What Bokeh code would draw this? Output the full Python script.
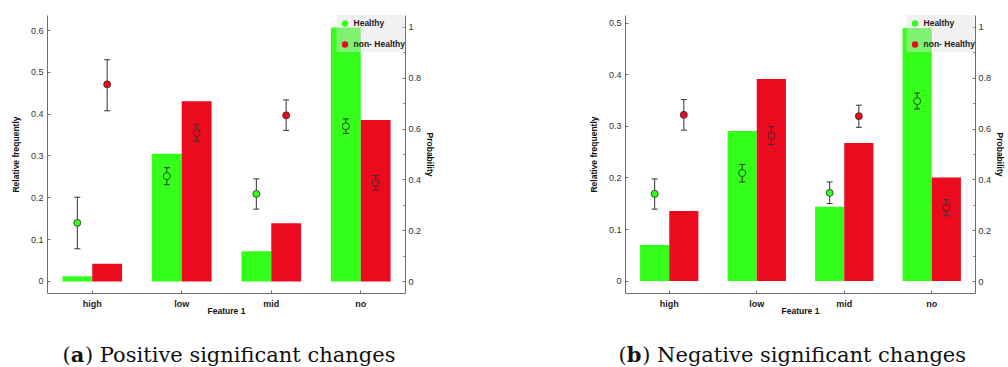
from bokeh.plotting import figure
from bokeh.models import (FactorRange, Range1d, LinearAxis, FixedTicker, Legend,
                          LegendItem, Label, ColumnDataSource)
from bokeh.transform import dodge
from bokeh.layouts import row, column
from bokeh.embed import file_html
from bokeh.resources import INLINE

# ---------------- data ----------------
categories = ["high", "low", "mid", "no"]
legend_labels = ["Healthy", "non- Healthy"]

# panel (a): positive significant changes
a_freq_healthy = [0.012, 0.305, 0.072, 0.607]
a_freq_nonhealthy = [0.042, 0.431, 0.139, 0.386]
a_prob_healthy = [0.231, 0.415, 0.345, 0.611]
a_prob_healthy_lo = [0.129, 0.381, 0.285, 0.583]
a_prob_healthy_hi = [0.332, 0.448, 0.404, 0.640]
a_prob_nonhealthy = [0.776, 0.585, 0.654, 0.389]
a_prob_nonhealthy_lo = [0.672, 0.553, 0.595, 0.360]
a_prob_nonhealthy_hi = [0.873, 0.619, 0.715, 0.417]

# panel (b): negative significant changes
b_freq_healthy = [0.070, 0.291, 0.144, 0.491]
b_freq_nonhealthy = [0.136, 0.392, 0.268, 0.201]
b_prob_healthy = [0.345, 0.427, 0.349, 0.710]
b_prob_healthy_lo = [0.285, 0.392, 0.307, 0.679]
b_prob_healthy_hi = [0.404, 0.461, 0.392, 0.742]
b_prob_nonhealthy = [0.656, 0.574, 0.651, 0.290]
b_prob_nonhealthy_lo = [0.596, 0.539, 0.607, 0.259]
b_prob_nonhealthy_hi = [0.716, 0.609, 0.694, 0.322]

# ticks
a_freq_ticks = [0, 0.1, 0.2, 0.3, 0.4, 0.5, 0.6]
a_freq_tick_labels = ["0", "0.1", "0.2", "0.3", "0.4", "0.5", "0.6"]
b_freq_ticks = [0, 0.1, 0.2, 0.3, 0.4, 0.5]
b_freq_tick_labels = ["0", "0.1", "0.2", "0.3", "0.4", "0.5"]
prob_ticks = [0, 0.2, 0.4, 0.6, 0.8, 1]
prob_tick_labels = ["0", "0.2", "0.4", "0.6", "0.8", "1"]
prob_minor_ticks = [0.1, 0.3, 0.5, 0.7, 0.9]

# captions
caption_letters = ["a", "b"]
caption_texts = ["Positive significant changes", "Negative significant changes"]

GREEN = "#33ff1a"
RED = "#ec0a1e"
AXIS = "#6e6e6e"
SANS = "Liberation Sans"
SERIF = "DejaVu Serif"


def style_axis(ax):
    ax.axis_line_color = AXIS
    ax.major_tick_line_color = AXIS
    ax.minor_tick_line_color = AXIS
    ax.major_tick_in = 3
    ax.major_tick_out = 0
    ax.minor_tick_in = 0
    ax.minor_tick_out = 0
    ax.major_label_text_font = SANS
    ax.major_label_text_font_size = "9px"
    ax.major_label_text_color = "#333333"
    ax.major_label_standoff = 4
    ax.axis_label_text_font = SANS
    ax.axis_label_text_font_style = "bold"
    ax.axis_label_text_font_size = "8.5px"
    ax.axis_label_text_color = "#111111"


def make_panel(width, min_left, min_right, fh, fn, ph, ph_lo, ph_hi, pn, pn_lo, pn_hi,
               y_min, y_max, freq_ticks, freq_tick_labels):
    src = ColumnDataSource(dict(cat=categories, fh=fh, fn=fn, ph=ph, ph_lo=ph_lo,
                                ph_hi=ph_hi, pn=pn, pn_lo=pn_lo, pn_hi=pn_hi))
    p = figure(width=width, height=322,
               x_range=FactorRange(factors=categories, range_padding=0),
               y_range=Range1d(y_min, y_max),
               output_backend="svg", toolbar_location=None,
               min_border_left=min_left, min_border_right=min_right,
               min_border_top=15, min_border_bottom=29)
    p.outline_line_color = None
    p.xgrid.visible = False
    p.ygrid.visible = False
    p.extra_y_ranges = {"prob": Range1d(-0.047, 1.047)}

    # left axis
    lax = p.left[0]
    style_axis(lax)
    lax.ticker = FixedTicker(ticks=freq_ticks, minor_ticks=[])
    lax.major_label_overrides = {t: s for t, s in zip(freq_ticks, freq_tick_labels)}
    lax.axis_label = "Relative frequently"
    lax.axis_label_standoff = 7

    # bottom axis
    bax = p.below[0]
    style_axis(bax)
    bax.major_label_text_font_style = "bold"
    bax.major_label_text_color = "#222222"
    bax.major_label_standoff = 5
    bax.axis_label = "Feature 1"
    bax.axis_label_standoff = -6

    # right axis
    rax = LinearAxis(y_range_name="prob",
                     ticker=FixedTicker(ticks=prob_ticks, minor_ticks=prob_minor_ticks))
    style_axis(rax)
    rax.minor_tick_in = 2
    rax.major_label_standoff = 3
    rax.major_label_overrides = {t: s for t, s in zip(prob_ticks, prob_tick_labels)}
    rax.axis_label = "Probability"
    rax.axis_label_standoff = 1
    p.add_layout(rax, "right")

    xg = dodge("cat", -1 / 6, range=p.x_range)
    xr = dodge("cat", 1 / 6, range=p.x_range)

    # bars (relative frequency)
    p.vbar(x=xg, top="fh", bottom=0, width=1 / 3, source=src,
           fill_color=GREEN, line_color=None)
    p.vbar(x=xr, top="fn", bottom=0, width=1 / 3, source=src,
           fill_color=RED, line_color=None)

    # error bars (probability)
    for xx, lo, hi in ((xg, "ph_lo", "ph_hi"), (xr, "pn_lo", "pn_hi")):
        p.segment(x0=xx, y0=lo, x1=xx, y1=hi, source=src, y_range_name="prob",
                  line_color="#333333", line_width=1)
        p.scatter(x=xx, y=lo, marker="dash", size=6, source=src, y_range_name="prob",
                  line_color="#333333", line_width=1)
        p.scatter(x=xx, y=hi, marker="dash", size=6, source=src, y_range_name="prob",
                  line_color="#333333", line_width=1)

    # legend swatches (edge-less dots, hidden beneath the real points)
    lg = p.scatter(x=xg, y="ph", size=6, source=src, y_range_name="prob",
                   fill_color=GREEN, line_color=None)
    lr = p.scatter(x=xr, y="pn", size=6, source=src, y_range_name="prob",
                   fill_color=RED, line_color=None)

    # probability points
    p.scatter(x=xg, y="ph", size=7, source=src, y_range_name="prob",
              fill_color=GREEN, line_color="#2a2a2a", line_width=0.8)
    p.scatter(x=xr, y="pn", size=7, source=src, y_range_name="prob",
              fill_color=RED, line_color="#2a2a2a", line_width=0.8)

    legend = Legend(items=[LegendItem(label=legend_labels[0], renderers=[lg]),
                           LegendItem(label=legend_labels[1], renderers=[lr])],
                    location="top_right", margin=0, padding=2, spacing=5,
                    glyph_width=16, glyph_height=16, label_height=16,
                    label_standoff=1,
                    label_text_font=SANS, label_text_font_style="bold",
                    label_text_font_size="8.5px", label_text_color="#222222",
                    background_fill_color="#e0e0e0", background_fill_alpha=0.45,
                    border_line_color=None)
    p.add_layout(legend)
    return p


pa = make_panel(508, 47, 103, a_freq_healthy, a_freq_nonhealthy,
                a_prob_healthy, a_prob_healthy_lo, a_prob_healthy_hi,
                a_prob_nonhealthy, a_prob_nonhealthy_lo, a_prob_nonhealthy_hi,
                -0.029, 0.636, a_freq_ticks, a_freq_tick_labels)
pb = make_panel(500, 117, 29, b_freq_healthy, b_freq_nonhealthy,
                b_prob_healthy, b_prob_healthy_lo, b_prob_healthy_hi,
                b_prob_nonhealthy, b_prob_nonhealthy_lo, b_prob_nonhealthy_hi,
                -0.024, 0.515, b_freq_ticks, b_freq_tick_labels)

# caption strip
cap = figure(width=1008, height=45, x_range=Range1d(0, 1), y_range=Range1d(0, 1),
             output_backend="svg", toolbar_location=None,
             x_axis_location=None, y_axis_location=None,
             min_border_left=0, min_border_right=0, min_border_top=0,
             min_border_bottom=0)
cap.outline_line_color = None
cap.xgrid.visible = False
cap.ygrid.visible = False
FS = 21
cap_starts = [62, 618]
bold_widths = {"a": 0.68, "b": 0.74}
for letter, text, x0 in zip(caption_letters, caption_texts, cap_starts):
    parts = [("(", "normal", 0.0),
             (letter, "bold", 0.39 * FS),
             (") " + text, "normal", (0.39 + bold_widths[letter]) * FS)]
    for txt, style, dx in parts:
        cap.add_layout(Label(x=x0 + dx, y=13, x_units="screen", y_units="screen",
                             text=txt, text_font=SERIF, text_font_style=style,
                             text_font_size=f"{FS}px", text_color="#111111",
                             text_baseline="alphabetic", text_align="left"))

layout = column(row(pa, pb), cap)
open("out.html", "w").write(file_html(layout, INLINE))
